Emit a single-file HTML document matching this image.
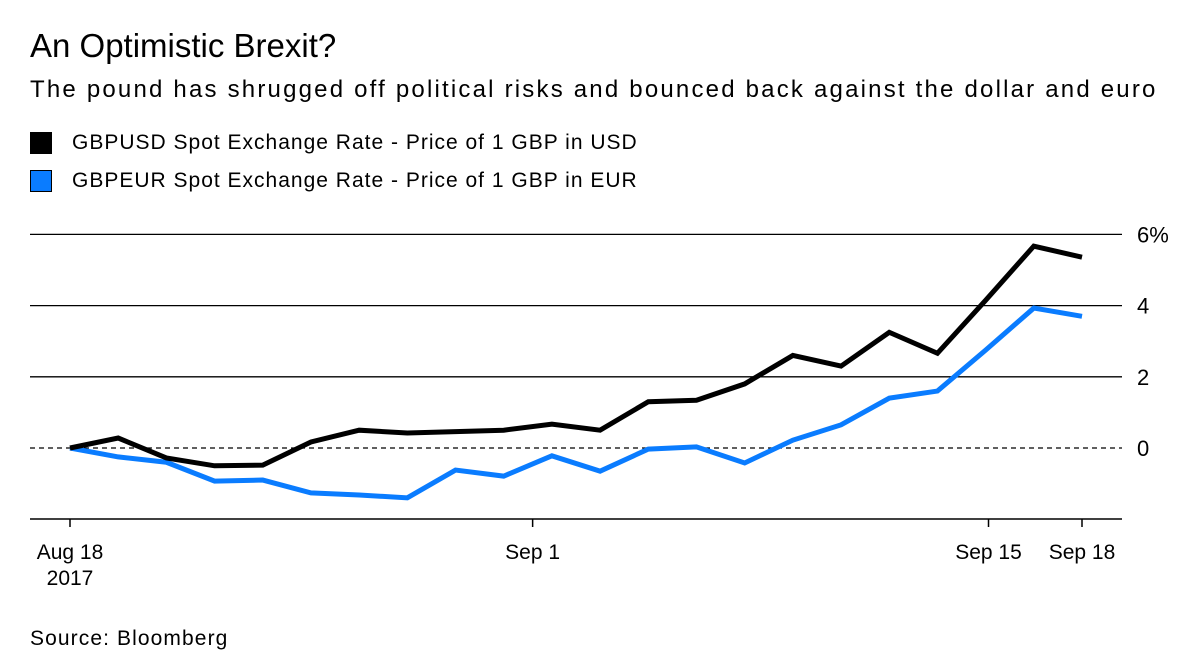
<!DOCTYPE html>
<html><head><meta charset="utf-8"><style>
body{margin:0;width:1200px;height:672px;background:#fff;font-family:"Liberation Sans",sans-serif;overflow:hidden;position:relative}
.t{position:absolute;color:#000;white-space:nowrap}
</style></head><body>
<div class="t" style="left:30px;top:27px;font-size:33px">An Optimistic Brexit?</div>
<div class="t" style="left:30px;top:76px;font-size:24px;letter-spacing:2.2px">The pound has shrugged off political risks and bounced back against the dollar and euro</div>
<div class="t" style="left:30px;top:131px;font-size:21px;letter-spacing:1px"><span style="display:inline-block;width:22px;height:22px;background:#000;vertical-align:-5px;margin-right:20px"></span>GBPUSD Spot Exchange Rate - Price of 1 GBP in USD</div>
<div class="t" style="left:30px;top:169px;font-size:21px;letter-spacing:1px"><span style="display:inline-block;width:20px;height:20px;background:#0a7cff;border:1px solid #000;vertical-align:-5px;margin-right:20px"></span>GBPEUR Spot Exchange Rate - Price of 1 GBP in EUR</div>
<div class="t" style="left:30px;top:627px;font-size:21px;letter-spacing:1.1px">Source: Bloomberg</div>
<svg id="c" width="1200" height="672" style="position:absolute;left:0;top:0"></svg>
<script>
const usd=[0,0.28,-0.28,-0.5,-0.48,0.17,0.5,0.42,0.46,0.5,0.67,0.5,1.3,1.34,1.8,2.6,2.3,3.25,2.66,4.15,5.67,5.36];
const eur=[0,-0.25,-0.4,-0.93,-0.9,-1.26,-1.32,-1.4,-0.62,-0.79,-0.22,-0.65,-0.03,0.03,-0.42,0.22,0.65,1.4,1.6,2.75,3.93,3.7];
const yTicks=[6,4,2,0];
const yTickLabels=["6%","4","2","0"];
const xTickPos=[0,9.6,19.06,21];
const xTickLabels=["Aug 18","Sep 1","Sep 15","Sep 18"];
const NS="http://www.w3.org/2000/svg",svg=document.getElementById('c');
const x=i=>70+i*(1012/21), y=v=>448-v*35.6;
function mk(t,a){const e=document.createElementNS(NS,t);for(const k in a)e.setAttribute(k,a[k]);svg.appendChild(e);return e;}
yTicks.forEach((v,i)=>{
 const l=mk('line',{x1:30,x2:1122,y1:y(v),y2:y(v),stroke:'#000','stroke-width':1.3,'stroke-dasharray':v===0?'5,4':'none'});
 
 
 const t=mk('text',{x:1137,y:y(v)+8,'font-size':22,'font-family':'Liberation Sans'});t.textContent=yTickLabels[i];
 
 
});
const ax=mk('line',{x1:30,x2:1122,y1:519,y2:519,stroke:'#000','stroke-width':1.5});


xTickPos.forEach((p,i)=>{
 const tk=mk('line',{x1:x(p),x2:x(p),y1:519,y2:527,stroke:'#000','stroke-width':1.5});
 
 
 const t=mk('text',{x:x(p),y:559,'font-size':21,'text-anchor':'middle','font-family':'Liberation Sans'});t.textContent=xTickLabels[i];
 
 
});
const yr=mk('text',{x:x(0),y:585,'font-size':21,'text-anchor':'middle','font-family':'Liberation Sans'});yr.textContent="2017";


[[eur,'#0a7cff','line-gbpeur'],[usd,'#000','line-gbpusd']].forEach(([d,c,n])=>{
 const p=mk('polyline',{points:d.map((v,i)=>x(i)+','+y(v)).join(' '),fill:'none',stroke:c,'stroke-width':5,'stroke-linejoin':'miter'});
 
 
});
</script>
</body></html>
